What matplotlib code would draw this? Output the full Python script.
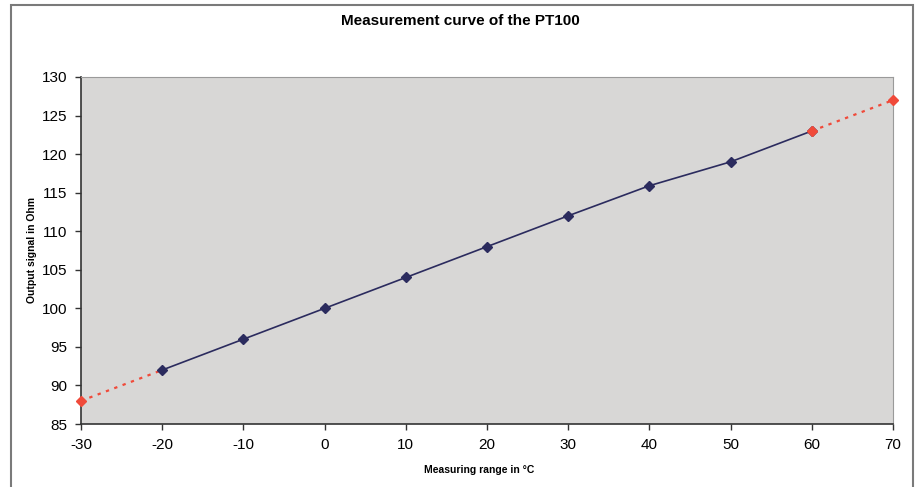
import matplotlib.pyplot as plt
from matplotlib.patches import Rectangle

plt.rcParams['font.family'] = ['Liberation Sans', 'DejaVu Sans']
plt.rcParams['axes.unicode_minus'] = False

# Messwerte
temp = [-20, -10, 0, 10, 20, 30, 40, 50, 60]
ohm = [92, 96, 100, 104, 108, 112, 115.9, 119, 123]
# Extrapolierte Enden
temp_low = [-30, -20]
ohm_low = [88, 92]
temp_high = [60, 70]
ohm_high = [123, 127]

xticks = [-30, -20, -10, 0, 10, 20, 30, 40, 50, 60, 70]
yticks = [85, 90, 95, 100, 105, 110, 115, 120, 125, 130]

W, H = 919, 487
fig = plt.figure(figsize=(W / 100, H / 100), dpi=100)
ax = fig.add_axes([81 / W, 1 - 424 / H, (893 - 81) / W, (424 - 77) / H])
ax.set_facecolor('#d8d7d6')

navy = '#2b2b5e'
red = '#f04a3a'
ax.plot(temp_low, ohm_low, color=red, lw=1.6, dashes=(1.5, 2.5), zorder=2)
ax.plot(temp_high, ohm_high, color=red, lw=1.6, dashes=(1.5, 2.5), zorder=2)
ax.plot(temp, ohm, '-', color=navy, lw=1.2, marker='D', ms=5.5, zorder=3)
ax.plot([temp_low[0], temp_high[0], temp_high[1]], [ohm_low[0], ohm_high[0], ohm_high[1]],
        'D', color=red, ms=5.5, ls='none', zorder=4, clip_on=False)

ax.set_xlim(-30, 70)
ax.set_ylim(85, 130)
ax.set_xticks(xticks)
ax.set_yticks(yticks)
ax.tick_params(labelsize=11, length=4, width=1, color='#333333', pad=6)
ax.spines['left'].set_color('#333333')
ax.spines['bottom'].set_color('#333333')
ax.spines['left'].set_linewidth(1.2)
ax.spines['bottom'].set_linewidth(1.2)
ax.spines['top'].set_color('#9a9a9a')
ax.spines['right'].set_color('#9a9a9a')

fig.text(460 / W, 1 - 21 / H, 'Measurement curve of the PT100', ha='center', va='center',
         fontsize=11, fontweight='bold')
fig.text(479 / W, 1 - 470 / H, 'Measuring range in °C', ha='center', va='center',
         fontsize=7.5, fontweight='bold')
fig.text(32 / W, 1 - 250 / H, 'Output signal in Ohm', ha='center', va='center',
         rotation=90, fontsize=7.5, fontweight='bold')

fig.patches.append(Rectangle((11 / W, -0.05), (913 - 11) / W, 1.05 - 5 / H,
                             transform=fig.transFigure, fill=False,
                             edgecolor='#7a7a7a', lw=1.5))

fig.savefig('out.png', dpi=100)
